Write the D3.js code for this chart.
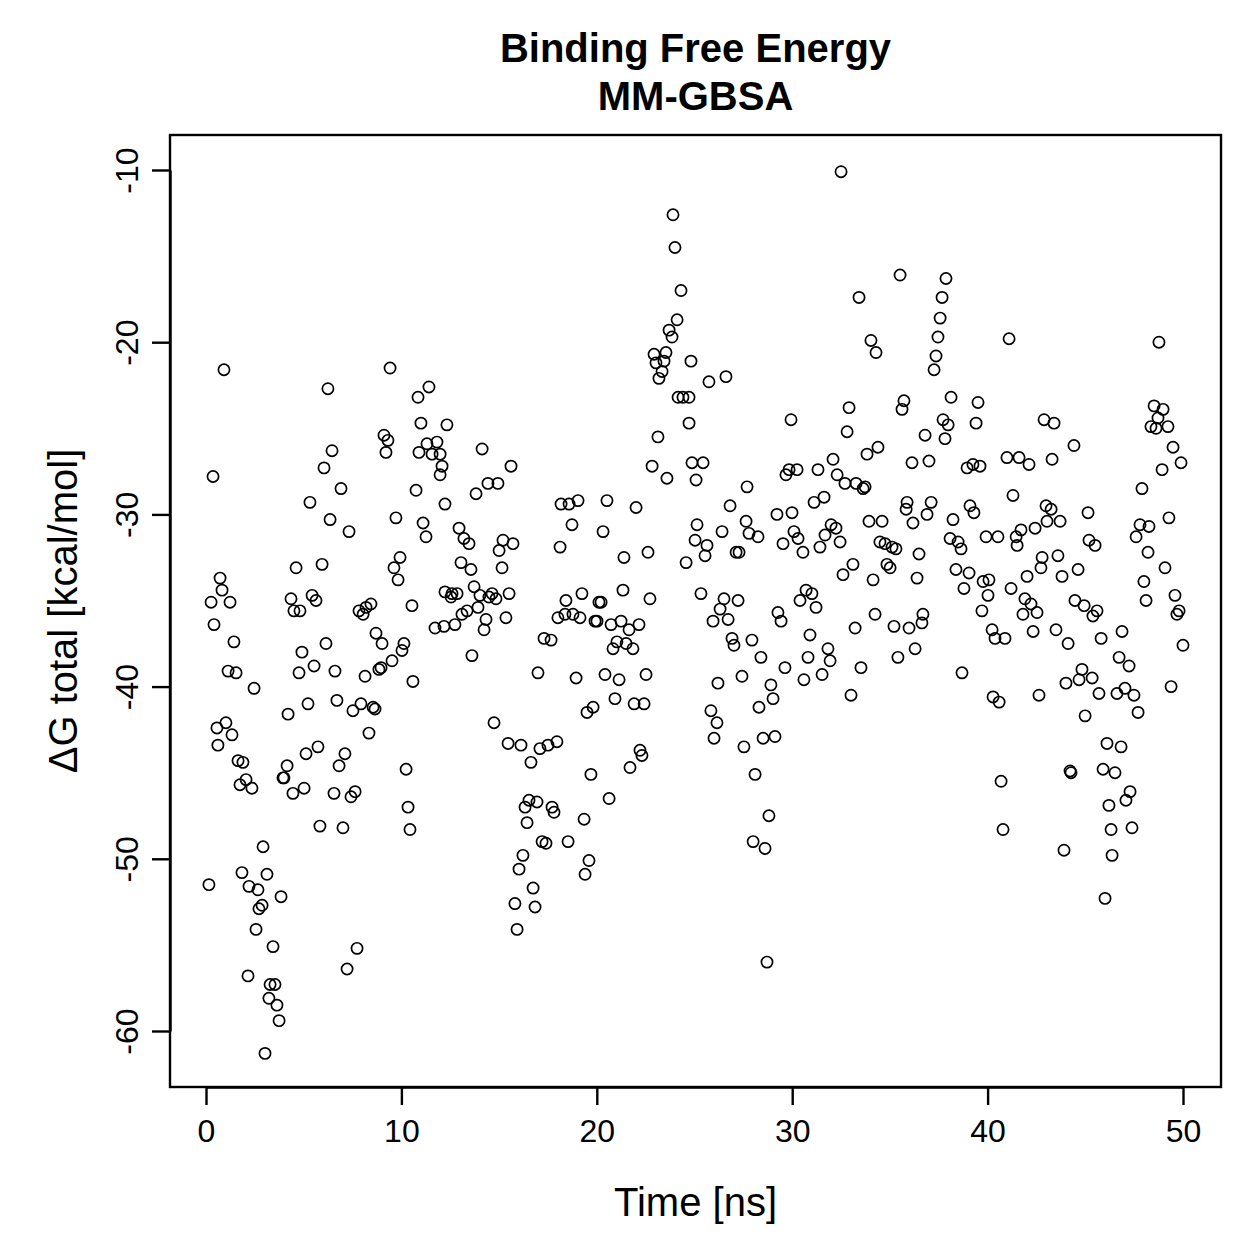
<!DOCTYPE html>
<html>
<head>
<meta charset="utf-8">
<script src="https://cdn.jsdelivr.net/npm/d3@7"></script>
<style>
  body { margin: 0; background: #fff; }
</style>
</head>
<body>
<div id="chart"></div>
<script>
// simulation time (ns) and MM-GBSA binding free energy (kcal/mol)
const timeNs = [
  0.92,0.36,0.72,0.82,0.26,1.23,0.41,1.43,1.13,1.54,2.46,0.56,1.02,1.33,0.61,1.64,1.89,1.74,2.05,2.35,3.94,3.99,4.15,4.45,4.61,4.35,4.50,4.81,4.76,4.20,0.15,2.92,1.84,3.12,2.20,2.66,3.84,2.71,2.87,2.56,3.43,2.15,3.28,3.53,3.22,3.63,3.74,3.02,
  6.24,9.42,11.41,10.85,11.00,12.33,9.11,9.31,9.21,6.45,6.04,10.90,11.31,11.82,11.57,11.98,12.08,11.98,
  6.91,5.32,6.35,7.32,10.75,9.72,11.11,11.26,12.23,
  5.94,5.43,5.63,4.91,6.14,5.53,6.60,8.14,5.22,6.70,7.52,7.93,8.55,8.65,8.34,5.12,5.73,6.81,7.11,10.24,
  9.93,9.62,9.83,7.83,8.04,8.19,8.44,8.70,9.01,10.13,10.03,9.52,8.85,8.96,10.59,10.54,11.72,
  12.23,12.59,12.85,12.54,12.18,
  5.02,6.55,7.42,7.63,5.83,7.01,10.34,10.44,7.73,7.22,
  23.90,24.00,24.31,24.11,23.70,23.85,22.93,23.54,23.03,23.44,23.34,23.18,24.82,24.16,24.41,24.72,24.72,23.13,22.83,24.87,25.44,14.13,15.61,
  14.43,14.94,13.82,12.95,13.20,13.46,15.20,15.71,15.00,13.05,13.56,15.15,13.72,14.02,14.64,14.48,14.84,15.51,13.92,13.36,13.10,14.33,15.35,12.74,14.23,13.61,
  18.17,18.58,19.04,20.52,22.01,23.59,25.08,18.73,20.32,18.12,21.39,22.62,24.57,25.13,25.03,19.24,18.42,20.11,20.22,21.34,22.72,18.01,18.37,18.78,19.14,19.91,20.01,20.73,21.24,21.65,22.16,21.03,21.50,20.83,21.85,17.30,17.66,16.99,18.94,20.42,21.14,22.52,20.93,21.91,22.42,19.50,19.81,14.74,15.46,16.12,17.09,17.50,17.96,16.63,22.21,22.31,21.70,19.70,
  16.53,16.94,16.33,17.71,17.81,16.43,19.35,20.63,17.20,17.40,18.53,16.22,16.02,19.60,19.40,16.74,15.81,16.84,15.92,
  32.50,35.52,37.87,33.42,37.67,37.57,37.46,37.36,37.26,34.03,34.29,25.74,26.61,29.94,32.91,32.81,35.72,35.62,38.13,37.72,37.98,36.80,37.82,32.09,33.83,34.39,36.13,37.00,29.68,29.84,30.25,31.32,32.30,
  27.69,26.82,32.70,33.27,33.63,33.73,31.12,31.63,29.22,29.99,26.41,27.64,27.79,28.25,25.64,25.54,27.13,27.28,29.53,30.09,30.30,30.55,31.42,31.68,31.99,32.24,32.45,33.93,34.60,35.88,35.83,37.11,36.90,36.18,34.49,34.75,35.11,35.31,33.11,32.60,34.14,34.85,35.01,36.49,36.39,38.23,
  25.33,26.51,27.23,26.31,26.72,25.95,26.92,27.02,27.94,28.40,27.43,26.20,29.27,29.43,30.71,31.01,30.40,31.22,30.91,31.83,31.94,30.81,29.63,30.60,31.53,28.91,29.02,28.30,25.84,26.15,26.00,28.51,29.12,27.53,28.10,33.01,33.52,33.22,34.24,35.21,35.98,36.69,36.64,35.41,36.29,
  28.81,28.00,28.61,28.71,
  41.10,48.77,39.51,39.41,42.89,43.40,44.42,40.99,41.61,42.12,43.30,38.95,39.25,39.61,48.52,48.98,48.72,48.36,48.62,49.23,49.49,49.90,48.93,
  41.30,39.10,39.30,38.08,38.49,38.64,39.92,40.53,41.46,41.71,41.51,42.43,42.99,43.25,43.04,43.71,45.14,45.19,45.50,42.79,42.73,43.60,42.02,43.81,44.63,38.38,39.05,39.77,40.07,38.79,40.02,41.20,39.71,41.91,42.22,41.81,42.53,44.47,44.94,45.60,45.39,40.23,40.38,40.89,42.33,43.50,44.12,45.81,46.88,46.73,47.24,38.69,40.28,40.59,42.63,44.01,44.83,44.68,45.35,45.70,46.62,47.03,47.49,44.99,47.70,46.11,46.83,44.22,44.27,45.91,46.52,40.69,
  47.90,47.80,48.26,47.60,49.28,48.21,49.08,48.00,48.11,49.59,49.80,49.69,50.00,49.39,
  40.79,43.91,47.29,47.08,46.21,46.32,47.39,46.37,46.01
];

const deltaG = [
  -21.6,-27.8,-33.7,-34.4,-35.1,-35.1,-36.4,-37.4,-39.1,-39.2,-40.1,-42.4,-42.1,-42.8,-43.4,-44.3,-44.4,-45.7,-45.4,-45.9,-45.3,-45.3,-44.6,-46.2,-33.1,-34.9,-35.6,-35.6,-39.2,-41.6,-51.5,-49.3,-50.8,-50.9,-51.6,-51.8,-52.2,-52.9,-52.7,-54.1,-55.1,-56.8,-57.3,-57.3,-58.1,-58.5,-59.4,-61.3,
  -22.7,-21.5,-22.6,-23.2,-24.7,-24.8,-25.4,-25.7,-26.4,-26.3,-27.3,-26.4,-25.9,-25.8,-26.5,-26.5,-27.2,-27.7,
  -28.5,-29.3,-30.3,-31.0,-28.6,-30.2,-30.5,-31.3,-29.4,
  -32.9,-34.7,-35.0,-38.0,-37.5,-38.8,-39.1,-39.4,-41.0,-40.8,-41.4,-41.0,-41.2,-41.3,-42.7,-43.9,-43.5,-44.6,-43.9,-44.8,
  -32.5,-33.1,-33.8,-35.6,-35.8,-35.4,-35.2,-36.9,-37.5,-37.5,-37.9,-38.5,-39.0,-38.9,-39.7,-35.3,-36.6,
  -34.5,-34.6,-34.6,-34.8,-36.5,
  -45.9,-46.2,-46.4,-46.1,-48.1,-48.2,-47.0,-48.3,-55.2,-56.4,
  -12.6,-14.5,-17.0,-18.7,-19.3,-19.7,-20.7,-20.6,-21.2,-21.1,-21.7,-22.1,-21.1,-23.2,-23.2,-23.2,-24.7,-25.5,-27.2,-27.0,-27.0,-26.2,-27.2,
  -28.2,-28.2,-28.8,-30.8,-31.4,-31.7,-31.5,-31.7,-32.1,-32.8,-33.2,-33.1,-34.2,-34.7,-34.6,-34.8,-34.9,-34.6,-35.4,-35.6,-35.8,-36.1,-36.0,-36.4,-36.7,-38.2,
  -29.4,-29.4,-29.2,-29.2,-29.6,-27.9,-28.0,-30.6,-31.0,-31.9,-32.5,-32.2,-32.8,-30.6,-31.5,-34.6,-35.0,-35.1,-35.1,-34.4,-34.9,-36.0,-35.8,-35.8,-36.0,-36.2,-36.2,-36.4,-36.2,-36.7,-36.4,-37.4,-37.5,-37.8,-37.8,-37.2,-37.3,-39.2,-39.5,-39.3,-39.6,-39.3,-40.7,-41.0,-41.0,-41.5,-41.2,-42.1,-43.3,-43.4,-43.6,-43.4,-43.2,-44.4,-43.7,-44.0,-44.7,-45.1,
  -46.6,-46.7,-47.0,-47.0,-47.3,-47.9,-47.7,-46.5,-49.0,-49.1,-49.0,-49.8,-50.6,-50.1,-50.9,-51.7,-52.6,-52.8,-54.1,
  -10.1,-16.1,-16.3,-17.4,-17.4,-18.6,-19.7,-20.8,-21.6,-19.9,-20.6,-22.3,-22.0,-24.5,-23.8,-25.2,-23.4,-23.9,-23.2,-24.5,-24.8,-25.4,-25.6,-26.8,-26.5,-26.1,-27.0,-26.9,-27.7,-27.4,-27.4,-27.4,-27.7,
  -28.4,-29.5,-28.2,-28.2,-28.5,-28.4,-29.3,-29.0,-30.0,-29.9,-31.0,-30.4,-31.1,-31.3,-31.8,-32.4,-32.2,-32.2,-31.7,-31.0,-31.4,-32.2,-31.9,-31.2,-30.6,-30.8,-31.6,-30.4,-30.4,-29.3,-29.7,-29.3,-30.0,-30.5,-31.6,-31.7,-31.9,-32.0,-32.9,-33.5,-33.8,-32.9,-33.1,-32.3,-33.7,-30.3,
  -34.6,-34.9,-35.0,-35.5,-36.1,-36.2,-37.2,-37.6,-37.3,-38.3,-39.4,-39.8,-35.7,-36.2,-34.4,-34.6,-35.0,-35.4,-37.0,-37.8,-38.5,-38.3,-38.9,-39.6,-39.3,-39.9,-40.7,-41.2,-41.4,-42.1,-43.0,-43.0,-42.9,-43.5,-45.1,-40.5,-38.9,-36.6,-35.8,-36.5,-36.6,-35.8,-36.3,-38.3,-37.8,
  -47.5,-49.0,-49.4,-56.0,
  -19.8,-20.0,-23.5,-24.7,-24.5,-24.7,-26.0,-26.7,-26.7,-27.1,-26.8,-27.3,-27.1,-27.2,-23.7,-23.9,-24.4,-24.9,-25.0,-24.9,-26.1,-27.0,-27.4,
  -28.9,-29.5,-29.9,-31.4,-31.6,-32.0,-31.3,-31.3,-31.3,-30.9,-31.8,-30.8,-29.5,-29.7,-30.4,-30.4,-29.9,-31.5,-31.8,-32.5,-33.1,-32.4,-33.6,-33.6,-33.2,-33.2,-33.4,-33.9,-33.8,-34.3,-34.7,-34.3,-35.6,-34.9,-35.2,-35.8,-35.7,-35.0,-35.3,-35.6,-35.9,-36.7,-37.2,-37.2,-36.8,-36.7,-37.5,-37.2,-36.8,-38.3,-38.8,-39.2,-40.6,-40.9,-40.5,-39.8,-39.0,-39.6,-39.5,-40.4,-40.4,-40.1,-40.5,-41.7,-41.5,-43.3,-43.5,-44.9,-45.0,-44.8,-45.0,-45.5,
  -28.5,-30.6,-30.7,-31.3,-30.2,-32.2,-33.1,-33.9,-35.0,-34.7,-35.6,-35.8,-37.6,-40.0,
  -48.3,-49.5,-46.1,-46.6,-46.9,-48.3,-48.2,-49.8,-52.3
];

const xTicks = [0, 10, 20, 30, 40, 50];
const yTicks = [-10, -20, -30, -40, -50, -60];
const titleLines = ["Binding Free Energy", "MM-GBSA"];

if (timeNs.length !== deltaG.length) console.error("length mismatch", timeNs.length, deltaG.length);
const data = timeNs.map((t, i) => ({ t, g: deltaG[i] }));

const width = 1259, height = 1259;
const box = { left: 170, right: 1221, top: 135, bottom: 1087 };
const font = "'Liberation Sans', Arial, Helvetica, sans-serif";

const x = d3.scaleLinear().domain([0, 50]).range([206, 1183]);
const y = d3.scaleLinear().domain([-10, -60]).range([170, 1031]);

const svg = d3.select("#chart").append("svg")
    .attr("width", width)
    .attr("height", height)
    .style("display", "block")
    .style("font-family", font);

svg.append("rect")
    .attr("width", width)
    .attr("height", height)
    .attr("fill", "#fff");

// points
svg.append("g")
    .selectAll("circle")
    .data(data)
    .join("circle")
    .attr("cx", d => x(d.t))
    .attr("cy", d => y(d.g))
    .attr("r", 5.6)
    .attr("fill", "none")
    .attr("stroke", "#000")
    .attr("stroke-width", 1.7);

// axes (plain hyphen for negatives, like R)
const xAxis = svg.append("g")
    .attr("transform", `translate(0,${box.bottom})`)
    .call(d3.axisBottom(x).tickValues(xTicks).tickFormat(d => String(d))
        .tickSize(18).tickSizeOuter(0).tickPadding(14));

const yAxis = svg.append("g")
    .attr("transform", `translate(${box.left},0)`)
    .call(d3.axisLeft(y).tickValues(yTicks).tickFormat(d => String(d))
        .tickSize(18).tickSizeOuter(0));

[xAxis, yAxis].forEach(g => {
  g.select(".domain").attr("stroke", "#000").attr("stroke-width", 2.4);
  g.selectAll(".tick line").attr("stroke", "#000").attr("stroke-width", 2.4);
  g.selectAll(".tick text")
      .attr("fill", "#000")
      .style("font-family", font)
      .style("font-size", "32px");
});

yAxis.selectAll(".tick text")
    .attr("x", null)
    .attr("dy", null)
    .attr("text-anchor", "middle")
    .attr("transform", "translate(-32,0) rotate(-90)");

// frame
svg.append("rect")
    .attr("x", box.left)
    .attr("y", box.top)
    .attr("width", box.right - box.left)
    .attr("height", box.bottom - box.top)
    .attr("fill", "none")
    .attr("stroke", "#000")
    .attr("stroke-width", 2.4);

// labels
const cx = (box.left + box.right) / 2;
const cy = (box.top + box.bottom) / 2;

svg.append("text")
    .attr("x", cx)
    .attr("y", 1216)
    .attr("text-anchor", "middle")
    .style("font-size", "40px")
    .text("Time [ns]");

svg.append("text")
    .attr("transform", `translate(77,${cy}) rotate(-90)`)
    .attr("text-anchor", "middle")
    .style("font-size", "40px")
    .text("ΔG total [kcal/mol]");

svg.append("g")
    .selectAll("text")
    .data(titleLines)
    .join("text")
    .attr("x", cx)
    .attr("y", (d, i) => 62 + i * 48)
    .attr("text-anchor", "middle")
    .style("font-size", "40px")
    .style("font-weight", "bold")
    .text(d => d);
</script>
</body>
</html>
